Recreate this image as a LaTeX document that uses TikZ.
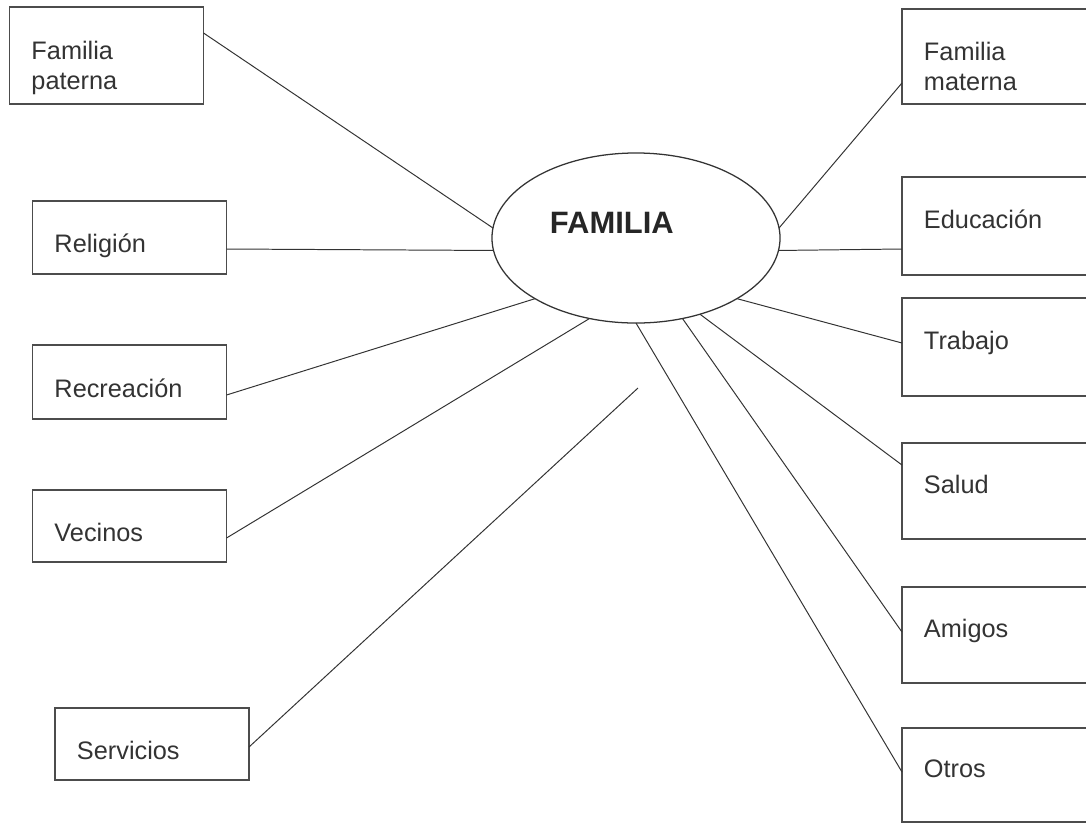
\documentclass[tikz,border=0pt]{standalone}
\usepackage{fontspec}
\setmainfont{Liberation Sans}
\usetikzlibrary{calc,shapes.geometric}

\begin{document}
\begin{tikzpicture}[x=0.025cm, y=-0.025cm,
  box/.style={rectangle, draw=black!70, line width=0.9pt, minimum width=4.85cm,
    text width=3.75cm, align=left, inner sep=0pt, outer sep=0pt, text=black!80,
    font=\fontsize{18}{22}\selectfont},
  lbox/.style={box, text height=24pt, text depth=2pt},
  rbox/.style={box, text height=8pt, text depth=4pt},
  twoline/.style={box, text height=11pt, text depth=6pt},
  hub/.style={ellipse, draw=black!80, line width=0.9pt, minimum width=7.2cm,
    minimum height=4.25cm, inner sep=0pt, outer sep=0pt, text width=4.3cm,
    align=left, text height=2pt, text depth=9pt, text=black!85,
    font=\fontsize{22}{26}\selectfont\bfseries},
  link/.style={draw=black!80, line width=0.7pt}
]
\useasboundingbox (0,0) rectangle (1086,825);

% centre
\node[hub] (fam) at (636,238) {FAMILIA};

% left column
\node[twoline, minimum height=2.425cm] (pat) at (106.5,55.5) {Familia\\paterna};
\foreach \n/\y/\h/\t in {rel/237.5/1.825/Religión, rec/382/1.85/Recreación,
                         vec/526/1.8/Vecinos}
  \node[lbox, minimum height=\h cm] (\n) at (129.5,\y) {\t};
\node[lbox, minimum height=1.8cm] (srv) at (152,744) {Servicios};

% right column
\node[twoline, minimum height=2.375cm] (mat) at (999,56.5) {Familia\\materna};
\foreach \n/\y/\h/\t in {edu/226/2.45/Educación, trab/347/2.45/Trabajo,
                         sal/491/2.4/Salud, ami/635/2.4/Amigos, otr/775/2.35/Otros}
  \node[rbox, minimum height=\h cm] (\n) at (999,\y) {\t};

% links
\draw[link] ($(pat.east)+(0,-22.5)$) -- (fam.176);
\draw[link] ($(rel.east)+(0,11.5)$) -- (fam.185);
\draw[link] ($(rec.east)+(0,13)$) -- (fam.211);
\draw[link] ($(vec.east)+(0,12)$) -- (fam.240);
\coordinate (srvend) at (638,388);
\draw[link] ($(srv.east)+(0,3)$) -- (srvend);
\draw[link] ($(mat.west)+(0,26.5)$) -- (fam.4);
\draw[link] ($(edu.west)+(0,23)$) -- (fam.355);
\draw[link] ($(trab.west)+(0,-4)$) -- (fam.329);
\draw[link] ($(sal.west)+(0,-26)$) -- (fam.310);
\draw[link] ($(ami.west)+(0,-3)$) -- (fam.300);
\draw[link] ($(otr.west)+(0,-3)$) -- (fam.270);
\end{tikzpicture}
\end{document}
